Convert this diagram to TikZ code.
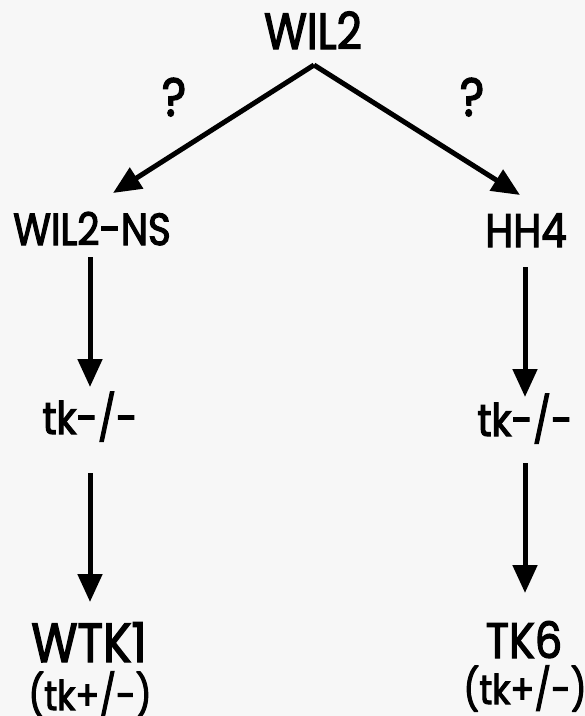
\documentclass[tikz,border=0pt]{standalone}
\usepackage{fontspec}
\setmainfont{Poppins}[FakeBold=2.5, FakeStretch=0.86]
\usetikzlibrary{arrows.meta,calc}
\definecolor{paper}{RGB}{247,247,247}
\newcommand{\fsz}[1]{\fontsize{#1}{#1}\selectfont}
\begin{document}
\begin{tikzpicture}[x=1pt,y=-1pt,
  lbl/.style={inner sep=0pt, anchor=base},
  arr/.style={line width=5pt, line join=miter,
    -{Triangle[length=28pt,width=24pt]}},
]
% page
\fill[paper] (0,0) rectangle (585,716);
\useasboundingbox (0,0) rectangle (585,716);

% labels
\node[lbl, font=\fsz{51}] (wil2) at (313,49) {WIL2};
\node[lbl, font=\fsz{54}] (ql) at (174,116) {?};
\node[lbl, font=\fsz{54}] (qr) at (472,116) {?};
\node[lbl, font=\fsz{45}] (ns) at (92,245) {WIL2-NS};
\node[lbl, font=\fsz{47}] (hh4) at (526,247) {HH4};
\node[lbl, font=\fsz{45}] (tkl) at (90,434) {tk-/-};
\node[lbl, font=\fsz{45}] (tkr) at (525,436) {tk-/-};
\node[lbl, font=\fsz{55}] (wtk) at (89,662) {WTK1};
\node[lbl, font=\fsz{50}] (tk6) at (524,658) {TK6};
\node[lbl, font=\fsz{41}] (hl) at (90,710) {(tk+/-)};
\node[lbl, font=\fsz{41}] (hr) at (525,704) {(tk+/-)};

% split below WIL2
\coordinate (apex) at ($(wil2.base)+(1,16)$);
\draw[arr] (apex) -- ($(ns.base)+(21,-52)$);
\draw[arr] (apex) -- ($(hh4.base)+(-6,-52)$);

% vertical steps
\draw[arr, shorten <=12pt, shorten >=47pt] (ns.base -| tkl.base) -- (tkl.base);
\draw[arr, shorten <=20pt, shorten >=39pt] (hh4.base -| tkr.base) -- (tkr.base);
\draw[arr, shorten <=39pt, shorten >=60pt] (tkl.base) -- (wtk.base -| tkl.base);
\draw[arr, shorten <=27pt, shorten >=65pt] (tkr.base) -- (tk6.base -| tkr.base);
\end{tikzpicture}
\end{document}
